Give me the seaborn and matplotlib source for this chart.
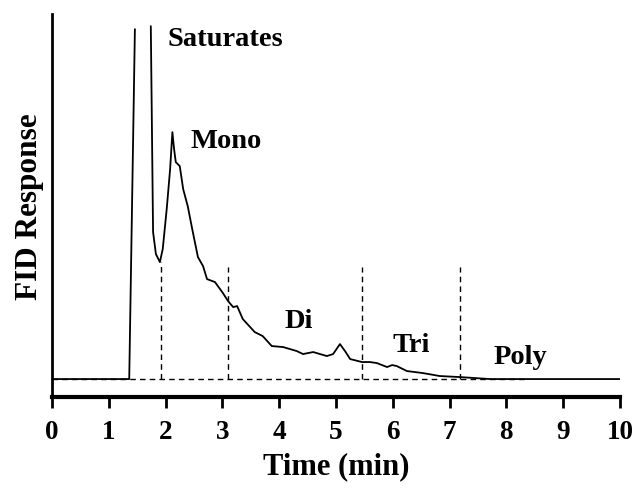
import numpy as np
import pandas as pd
import matplotlib
matplotlib.use("Agg")
import matplotlib.pyplot as plt
import seaborn as sns

# ---- data ----
time_a = [0.0, 1.36, 1.46]
resp_a = [0.0, 0.0, 350.0]

time_b = [1.74, 1.78, 1.83, 1.90, 1.95, 2.02, 2.08, 2.12, 2.15, 2.18, 2.25, 2.31,
          2.39, 2.48, 2.57, 2.66, 2.73, 2.87, 3.01, 3.10, 3.19, 3.26, 3.36, 3.57,
          3.71, 3.87, 4.07, 4.31, 4.42, 4.60, 4.84, 4.95, 5.07, 5.16, 5.25, 5.46,
          5.60, 5.72, 5.81, 5.90, 5.99, 6.07, 6.25, 6.53, 6.83, 7.18, 7.71, 8.36, 10.0]
resp_b = [353, 147, 125, 117, 130, 170, 210, 247, 230, 217, 213, 190,
          173, 147, 122, 113, 100, 97, 86, 78, 72, 73, 60, 47,
          43, 33, 32, 28, 25, 27, 23, 25, 35, 28, 20, 17,
          17, 16, 14, 12, 14, 13, 8, 6, 3, 2, 0, 0, 0]

divider_time = [1.92, 3.10, 5.45, 7.18]
divider_top = [117, 112, 112, 112]
baseline_end = 8.36

labels = ["Saturates", "Mono", "Di", "Tri", "Poly"]
label_time = [3.05, 3.06, 4.35, 6.32, 8.24]
label_resp = [341, 239, 59, 35, 23]

xticks = list(range(0, 11))

# ---- figure ----
sns.set_style("ticks")
plt.rcParams["font.family"] = ["Liberation Serif", "DejaVu Serif"]
plt.rcParams["font.weight"] = "bold"
plt.rcParams["text.color"] = "black"
plt.rcParams["axes.labelcolor"] = "black"
plt.rcParams["xtick.color"] = "black"

fig = plt.figure(figsize=(6.41, 4.89), dpi=100)
ax = fig.add_axes([0.0811, 0.186, 0.886, 0.783])

df = pd.concat([
    pd.DataFrame({"time": time_a, "resp": resp_a, "seg": 0}),
    pd.DataFrame({"time": time_b, "resp": resp_b, "seg": 1}),
])
sns.lineplot(data=df, x="time", y="resp", units="seg", estimator=None,
             sort=False, color="black", linewidth=1.3, ax=ax, legend=False)

# dashed dividers and baseline
for t, h in zip(divider_time, divider_top):
    ax.plot([t, t], [0, h], color="black", linestyle=(0, (4, 3)), linewidth=1.0)
ax.plot([0, baseline_end], [0, 0], color="black", linestyle=(0, (4, 3)), linewidth=1.0)

for s, tx, ty in zip(labels, label_time, label_resp):
    ax.text(tx, ty, s, ha="center", va="center", fontsize=20.5, fontweight="bold",
            color="black")

ax.set_xlim(0, 10)
ax.set_ylim(-18, 365)
ax.set_xticks(xticks)
ax.set_xticklabels([str(v) for v in xticks], fontsize=19.5, fontweight="bold")
ax.set_yticks([])
ax.set_xlabel("Time (min)", fontsize=22, fontweight="bold", labelpad=5, color="black")
ax.set_ylabel("FID Response", fontsize=22.5, fontweight="bold", labelpad=6, color="black")

sns.despine(ax=ax, top=True, right=True)
ax.spines["bottom"].set_linewidth(3)
ax.spines["left"].set_linewidth(2)
ax.spines["bottom"].set_color("black")
ax.spines["left"].set_color("black")
ax.tick_params(axis="x", direction="out", length=8, width=2, color="black",
               labelcolor="black", pad=8)

fig.savefig("out.png", dpi=100)
